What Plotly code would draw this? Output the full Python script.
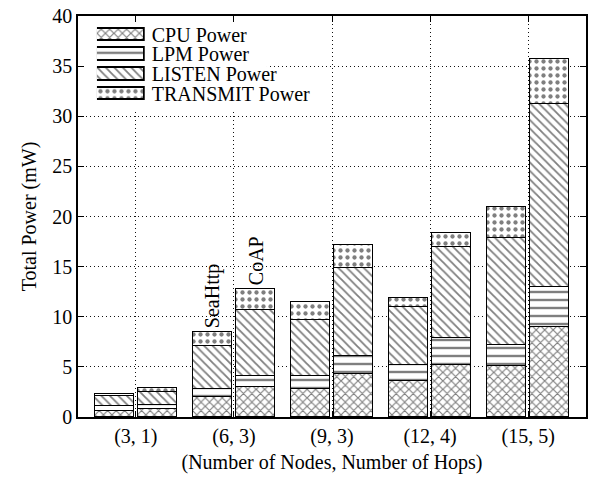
import plotly.graph_objects as go
import numpy as np

# ---- data (mW) ----
groups = ["(3, 1)", "(6, 3)", "(9, 3)", "(12, 4)", "(15, 5)"]
protocols = ["SeaHttp", "CoAP"]
components = ["CPU Power", "LPM Power", "LISTEN Power", "TRANSMIT Power"]

seahttp_cpu      = [0.60, 2.00, 2.75, 3.55, 5.10]
seahttp_lpm      = [0.45, 0.80, 1.30, 1.60, 2.10]
seahttp_listen   = [1.00, 4.30, 5.65, 5.85, 10.65]
seahttp_transmit = [0.27, 1.40, 1.80, 0.90, 3.10]

coap_cpu      = [0.80, 3.00, 4.25, 5.20, 9.00]
coap_lpm      = [0.35, 1.10, 1.80, 2.70, 3.95]
coap_listen   = [1.35, 6.55, 8.80, 9.05, 18.25]
coap_transmit = [0.40, 2.10, 2.30, 1.40, 4.50]

# ---- styles ----
FONT = "Liberation Serif"
patterns = {
    "CPU Power":      dict(shape="x",  size=6, solidity=0.35),
    "LPM Power":      dict(shape="-",  size=8, solidity=0.3),
    "LISTEN Power":   dict(shape="\\", size=6, solidity=0.3),
    "TRANSMIT Power": dict(shape=".",  size=7, solidity=0.3),
}
bar_w = 0.40
offset = 0.22
x_range = [-0.59, 4.59]
y_range = [0, 40]

fig = go.Figure()
xpos = np.arange(len(groups))
series = {
    "SeaHttp": [seahttp_cpu, seahttp_lpm, seahttp_listen, seahttp_transmit],
    "CoAP": [coap_cpu, coap_lpm, coap_listen, coap_transmit],
}
shift = {"SeaHttp": -offset, "CoAP": offset}


def marker_for(comp):
    p = patterns[comp]
    return dict(color="white",
                line=dict(color="black", width=1.5),
                pattern=dict(shape=p["shape"], size=p["size"],
                             solidity=p["solidity"],
                             fgcolor="black", bgcolor="white",
                             fillmode="overlay"))


for prot in protocols:
    for comp, vals in zip(components, series[prot]):
        fig.add_trace(go.Bar(
            x=xpos + shift[prot], y=vals, width=bar_w, name=comp,
            showlegend=False, marker=marker_for(comp), hoverinfo="skip",
        ))

# legend drawn as patterned boxes on an overlay axis
for comp in components:
    fig.add_trace(go.Bar(
        x=[1], y=[comp], orientation="h", width=0.64,
        xaxis="x2", yaxis="y2", showlegend=False,
        marker=marker_for(comp), hoverinfo="skip",
    ))

totals_sea = np.sum(series["SeaHttp"], axis=0)
totals_coap = np.sum(series["CoAP"], axis=0)
for prot, tot in (("SeaHttp", totals_sea), ("CoAP", totals_coap)):
    fig.add_annotation(x=1 + shift[prot], y=tot[1], xref="x", yref="y",
                       text=prot, textangle=-90, showarrow=False,
                       yanchor="bottom", xanchor="center", yshift=2,
                       font=dict(family=FONT, size=20, color="black"))

# legend background (hides grid behind the legend)
xs = x_range[1] - x_range[0]
ys = y_range[1] - y_range[0]
fig.add_shape(type="rect", xref="x", yref="y",
              x0=x_range[0] + 0.005 * xs, x1=x_range[0] + 0.372 * xs,
              y0=y_range[0] + 0.762 * ys, y1=y_range[0] + 0.995 * ys,
              fillcolor="white", line=dict(width=0), layer="between")

axis_common = dict(showline=True, linecolor="black", linewidth=1.5,
                   mirror="allticks", ticks="inside", ticklen=6,
                   tickcolor="black", tickwidth=1,
                   showgrid=True, gridcolor="#111", gridwidth=1,
                   griddash="1px,3px", zeroline=False,
                   tickfont=dict(family=FONT, size=20, color="black"))

fig.update_layout(
    width=593, height=479,
    margin=dict(l=78, r=5, t=14, b=62),
    paper_bgcolor="white", plot_bgcolor="white",
    barmode="stack", bargap=0, showlegend=False,
    font=dict(family=FONT, size=20, color="black"),
    xaxis=dict(range=x_range, tickmode="array", tickvals=list(xpos),
               ticktext=groups,
               title=dict(text="(Number of Nodes, Number of Hops)",
                          font=dict(family=FONT, size=20), standoff=8),
               **axis_common),
    yaxis=dict(range=y_range, dtick=5,
               title=dict(text="Total Power (mW)",
                          font=dict(family=FONT, size=20), standoff=10),
               **axis_common),
    xaxis2=dict(domain=[0.0373, 0.1314], anchor="y2", range=[0, 1],
                visible=False, fixedrange=True),
    yaxis2=dict(domain=[0.781, 0.978], anchor="x2", type="category",
                categoryorder="array", categoryarray=components,
                tickmode="array", tickvals=components,
                range=[3.5, -0.5], side="right", showline=False,
                showgrid=False, zeroline=False, ticks="",
                ticklabelstandoff=6,
                tickfont=dict(family=FONT, size=20, color="black")),
)

fig.write_html("out.html")
